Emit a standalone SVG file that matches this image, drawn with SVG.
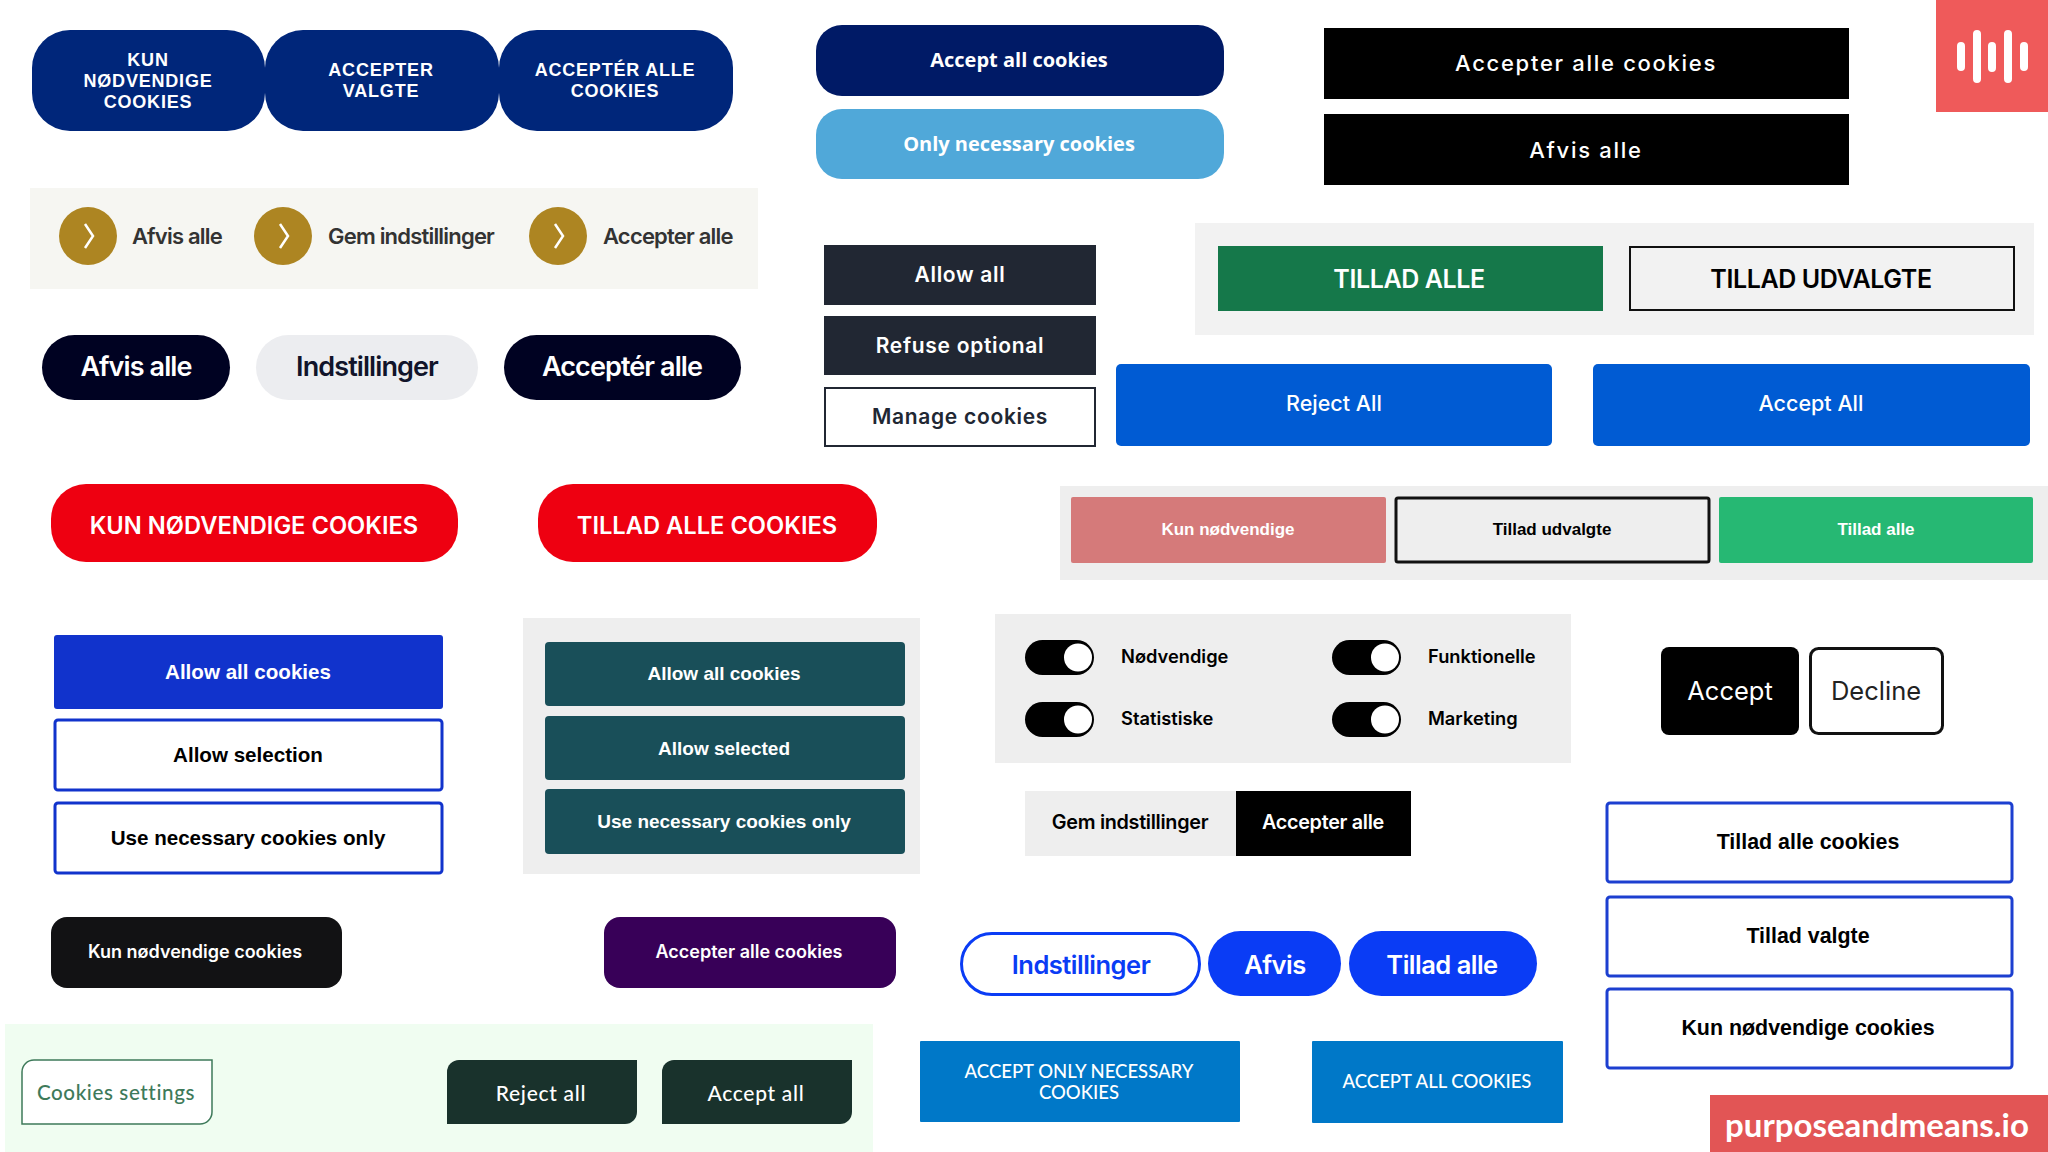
<svg xmlns="http://www.w3.org/2000/svg" width="2048" height="1152" viewBox="0 0 2048 1152">
<style>
text{text-anchor:middle;dominant-baseline:central;font-family:"Liberation Sans",Arial,sans-serif;fill:#fff}
.l{text-anchor:start}
.inter{font-family:Inter,"Liberation Sans",sans-serif}
.open{font-family:"Open Sans","Liberation Sans",sans-serif}
.lato{font-family:Lato,"Liberation Sans",sans-serif}
.b{font-weight:700}.s{font-weight:600}.m{font-weight:500}
.k{fill:#000}
.navy{fill:#00267a}
.navytx{font-size:18px;font-weight:700;letter-spacing:.8px}
.gold{fill:#ad8522}
.goldtx{font-size:22px;letter-spacing:-.8px;fill:#333}
.pilltx{font-size:27px;font-weight:600;letter-spacing:-.9px}
.chev{fill:none;stroke:#fff;stroke-width:2.5}
.slate{fill:#212733}
.red{fill:#ee0011}
.teal{fill:#194f59}
.bl1{fill:#fff;stroke:#1133cc;stroke-width:3}
.bl2{fill:#fff;stroke:#1c3fd0;stroke-width:3}
.vivid{fill:#0a3cf5}
.azure{fill:#0078c8}
.leaf{fill:#19322c}
.bar{stroke:#fff;stroke-width:8;stroke-linecap:round}
.tg{fill:#000}
.knob{fill:#fff}
</style>
<g id="brand-mark"><rect x="1936" y="0" width="112" height="112" fill="#ef5a5a"/><path class="bar" d="M1961 46V67M1977 34V79M1992 46V68M2008 34V79M2024 46V67"/></g>

<g id="navy-only"><rect class="navy" x="32" y="30" width="233" height="101" rx="38"/><text class="navytx"><tspan x="148" y="60">KUN</tspan><tspan x="148" y="81">NØDVENDIGE</tspan><tspan x="148" y="102">COOKIES</tspan></text></g>
<g id="navy-selected"><rect class="navy" x="265" y="30" width="234" height="101" rx="38"/><text class="navytx"><tspan x="381" y="70">ACCEPTER</tspan><tspan x="381" y="91">VALGTE</tspan></text></g>
<g id="navy-all"><rect class="navy" x="499" y="30" width="234" height="101" rx="38"/><text class="navytx"><tspan x="615" y="70">ACCEPTÉR ALLE</tspan><tspan x="615" y="91">COOKIES</tspan></text></g>

<g id="gold-panel"><rect x="30" y="188" width="728" height="101" fill="#f6f6f2"/></g>
<g id="gold-afvis"><circle class="gold" cx="88" cy="236" r="29"/><path class="chev" d="M85 224l8 12-8 12"/><text class="inter s l goldtx" x="132" y="236">Afvis alle</text></g>
<g id="gold-gem"><circle class="gold" cx="283" cy="236" r="29"/><path class="chev" d="M280 224l8 12-8 12"/><text class="inter s l goldtx" x="328" y="236">Gem indstillinger</text></g>
<g id="gold-accepter"><circle class="gold" cx="558" cy="236" r="29"/><path class="chev" d="M555 224l8 12-8 12"/><text class="inter s l goldtx" x="603" y="236">Accepter alle</text></g>

<g id="pill-afvis"><rect x="42" y="335" width="188" height="65" rx="32.5" fill="#000222"/><text class="inter pilltx" x="136" y="366">Afvis alle</text></g>
<g id="pill-indstillinger"><rect x="256" y="335" width="222" height="65" rx="32.5" fill="#ecedf0"/><text class="inter pilltx" x="367" y="366" style="fill:#11142a">Indstillinger</text></g>
<g id="pill-accepter"><rect x="504" y="335" width="237" height="65" rx="32.5" fill="#000222"/><text class="inter pilltx" x="622" y="366">Acceptér alle</text></g>

<g id="accept-all-cookies"><rect x="816" y="25" width="408" height="71" rx="26" fill="#001a66"/><text class="open b" x="1019" y="59" font-size="20">Accept all cookies</text></g>
<g id="only-necessary"><rect x="816" y="109" width="408" height="70" rx="26" fill="#50a8d9"/><text class="open b" x="1019" y="143" font-size="20">Only necessary cookies</text></g>

<g id="black-accepter"><rect class="k" x="1324" y="28" width="525" height="71"/><text class="inter m" x="1586" y="63" font-size="22" letter-spacing="1.7">Accepter alle cookies</text></g>
<g id="black-afvis"><rect class="k" x="1324" y="114" width="525" height="71"/><text class="inter m" x="1586" y="150" font-size="22" letter-spacing="1.7">Afvis alle</text></g>

<g id="slate-allow"><rect class="slate" x="824" y="245" width="272" height="60"/><text class="inter s" x="960" y="274" font-size="21" letter-spacing=".7">Allow all</text></g>
<g id="slate-refuse"><rect class="slate" x="824" y="316" width="272" height="59"/><text class="inter s" x="960" y="345" font-size="21" letter-spacing=".7">Refuse optional</text></g>
<g id="slate-manage"><rect x="825" y="388" width="270" height="58" fill="#fff" stroke="#212733" stroke-width="2"/><text class="inter s" x="960" y="416" font-size="21" letter-spacing=".7" style="fill:#212733">Manage cookies</text></g>

<g id="green-panel"><rect x="1195" y="223" width="839" height="112" fill="#f2f2f2"/></g>
<g id="green-alle"><rect x="1218" y="246" width="385" height="65" fill="#15784a"/><text class="inter s" x="1409" y="279" font-size="25" letter-spacing="-.4">TILLAD ALLE</text></g>
<g id="green-udvalgte"><rect x="1630" y="247" width="384" height="63" fill="none" stroke="#111" stroke-width="2"/><text class="inter s k" x="1821" y="279" font-size="25" letter-spacing="-.4">TILLAD UDVALGTE</text></g>

<g id="reject-all"><rect x="1116" y="364" width="436" height="82" rx="5" fill="#005bd3"/><text class="inter m" x="1334" y="403" font-size="21.5">Reject All</text></g>
<g id="accept-all"><rect x="1593" y="364" width="437" height="82" rx="5" fill="#005bd3"/><text class="inter m" x="1811" y="403" font-size="21.5">Accept All</text></g>

<g id="red-kun"><rect class="red" x="51" y="484" width="407" height="78" rx="35"/><text class="inter s" x="254" y="525" font-size="23.700">KUN NØDVENDIGE COOKIES</text></g>
<g id="red-tillad"><rect class="red" x="538" y="484" width="339" height="78" rx="35"/><text class="inter s" x="707" y="525" font-size="23.700">TILLAD ALLE COOKIES</text></g>

<g id="tri-panel"><rect x="1060" y="486" width="988" height="94" fill="#eee"/></g>
<g id="tri-kun"><rect x="1071" y="497" width="315" height="66" rx="2" fill="#d57a7a"/><text class="b" x="1228" y="529" font-size="17">Kun nødvendige</text></g>
<g id="tri-udvalgte"><rect x="1396" y="498" width="313" height="64" rx="2" fill="#eee" stroke="#111" stroke-width="3"/><text class="b k" x="1552" y="529" font-size="17">Tillad udvalgte</text></g>
<g id="tri-alle"><rect x="1719" y="497" width="314" height="66" rx="2" fill="#26b873"/><text class="b" x="1876" y="529" font-size="17">Tillad alle</text></g>

<g id="blue-allow"><rect x="54" y="635" width="389" height="74" rx="3" fill="#1133cc"/><text class="b" x="248" y="671" font-size="20.600">Allow all cookies</text></g>
<g id="blue-selection"><rect class="bl1" x="55" y="720" width="387" height="70" rx="3"/><text class="b k" x="248" y="754" font-size="20.600">Allow selection</text></g>
<g id="blue-necessary"><rect class="bl1" x="55" y="803" width="387" height="70" rx="3"/><text class="b k" x="248" y="837" font-size="20.600">Use necessary cookies only</text></g>

<g id="teal-panel"><rect x="523" y="618" width="397" height="256" fill="#eee"/></g>
<g id="teal-allow"><rect class="teal" x="545" y="642" width="360" height="64" rx="4"/><text class="b" x="724" y="673" font-size="19">Allow all cookies</text></g>
<g id="teal-selected"><rect class="teal" x="545" y="716" width="360" height="64" rx="4"/><text class="b" x="724" y="748" font-size="19">Allow selected</text></g>
<g id="teal-necessary"><rect class="teal" x="545" y="789" width="360" height="65" rx="4"/><text class="b" x="724" y="821" font-size="19">Use necessary cookies only</text></g>

<g id="dark-kun"><rect x="51" y="917" width="291" height="71" rx="16" fill="#121214"/><text class="inter s" x="195" y="951" font-size="18">Kun nødvendige cookies</text></g>
<g id="purple-accepter"><rect x="604" y="917" width="292" height="71" rx="16" fill="#380058"/><text class="inter s" x="749" y="951" font-size="18">Accepter alle cookies</text></g>

<g id="mint-panel"><rect x="5" y="1024" width="868" height="128" fill="#f0fdf1"/></g>
<g id="mint-settings"><path d="M34 1060H212V1112a12 12 0 0 1-12 12H22V1072a12 12 0 0 1 12-12z" fill="#fff" stroke="#3e7a5a" stroke-width="1.5"/><text class="lato m" x="116" y="1092" font-size="20.600" letter-spacing=".6" style="fill:#3e7a5a">Cookies settings</text></g>
<g id="mint-reject"><path class="leaf" d="M459 1060H637V1112a12 12 0 0 1-12 12H447V1072a12 12 0 0 1 12-12z"/><text class="lato m" x="541" y="1092" font-size="21" letter-spacing=".7">Reject all</text></g>
<g id="mint-accept"><path class="leaf" d="M674 1060H852V1112a12 12 0 0 1-12 12H662V1072a12 12 0 0 1 12-12z"/><text class="lato m" x="756" y="1092" font-size="21" letter-spacing=".7">Accept all</text></g>

<g id="toggle-panel"><rect x="995" y="614" width="576" height="149" fill="#eee"/></g>
<g id="toggle-nodvendige"><rect class="tg" x="1025" y="640" width="69" height="35" rx="17.5"/><circle class="knob" cx="1078" cy="657.5" r="14"/><text class="inter s k l" x="1121" y="656" font-size="18.300">Nødvendige</text></g>
<g id="toggle-statistiske"><rect class="tg" x="1025" y="702" width="69" height="35" rx="17.5"/><circle class="knob" cx="1078" cy="719.5" r="14"/><text class="inter s k l" x="1121" y="718" font-size="18.300">Statistiske</text></g>
<g id="toggle-funktionelle"><rect class="tg" x="1332" y="640" width="69" height="35" rx="17.5"/><circle class="knob" cx="1385" cy="657.5" r="14"/><text class="inter s k l" x="1428" y="656" font-size="18.300">Funktionelle</text></g>
<g id="toggle-marketing"><rect class="tg" x="1332" y="702" width="69" height="35" rx="17.5"/><circle class="knob" cx="1385" cy="719.5" r="14"/><text class="inter s k l" x="1428" y="718" font-size="18.300">Marketing</text></g>

<g id="gem-indstillinger"><rect x="1025" y="791" width="211" height="65" fill="#eee"/><text class="inter s k" x="1130" y="822" font-size="19.800" letter-spacing="-.3">Gem indstillinger</text></g>
<g id="gem-accepter"><rect class="k" x="1236" y="791" width="175" height="65"/><text class="inter s" x="1323" y="822" font-size="19.800" letter-spacing="-.3">Accepter alle</text></g>

<g id="accept"><rect class="k" x="1661" y="647" width="138" height="88" rx="8"/><text class="inter" x="1730" y="690" font-size="25.500">Accept</text></g>
<g id="decline"><rect x="1810.500" y="648.500" width="132" height="85" rx="8" fill="#fff" stroke="#111" stroke-width="3"/><text class="inter" x="1876" y="690" font-size="25.500" style="fill:#222">Decline</text></g>

<g id="outline-alle"><rect class="bl2" x="1607" y="803" width="405" height="79" rx="3"/><text class="b k" x="1808" y="842" font-size="21.400">Tillad alle cookies</text></g>
<g id="outline-valgte"><rect class="bl2" x="1607" y="897" width="405" height="79" rx="3"/><text class="b k" x="1808" y="936" font-size="21.400">Tillad valgte</text></g>
<g id="outline-kun"><rect class="bl2" x="1607" y="989" width="405" height="79" rx="3"/><text class="b k" x="1808" y="1028" font-size="21.400">Kun nødvendige cookies</text></g>

<g id="vivid-indstillinger"><rect x="961.500" y="933.500" width="238" height="61" rx="30.500" fill="#fff" stroke="#0a3cf5" stroke-width="3"/><text class="inter s" x="1081" y="964" font-size="25.500" letter-spacing="-.5" style="fill:#0a3cf5">Indstillinger</text></g>
<g id="vivid-afvis"><rect class="vivid" x="1208" y="931" width="133" height="65" rx="32.500"/><text class="inter s" x="1275" y="964" font-size="25.500" letter-spacing="-.5">Afvis</text></g>
<g id="vivid-tillad"><rect class="vivid" x="1349" y="931" width="188" height="65" rx="32.500"/><text class="inter s" x="1442" y="964" font-size="25.500" letter-spacing="-.5">Tillad alle</text></g>

<g id="azure-only"><rect class="azure" x="920" y="1041" width="320" height="81" rx="1"/><text class="lato m" font-size="18.500"><tspan x="1079" y="1071">ACCEPT ONLY NECESSARY</tspan><tspan x="1079" y="1092">COOKIES</tspan></text></g>
<g id="azure-all"><rect class="azure" x="1312" y="1041" width="251" height="82" rx="1"/><text class="lato m" x="1437" y="1081" font-size="18.500">ACCEPT ALL COOKIES</text></g>

<g id="brand-name"><rect x="1710" y="1095" width="338" height="57" fill="#e25555"/><text class="lato b" x="1877" y="1124" font-size="33">purposeandmeans.io</text></g>
</svg>
